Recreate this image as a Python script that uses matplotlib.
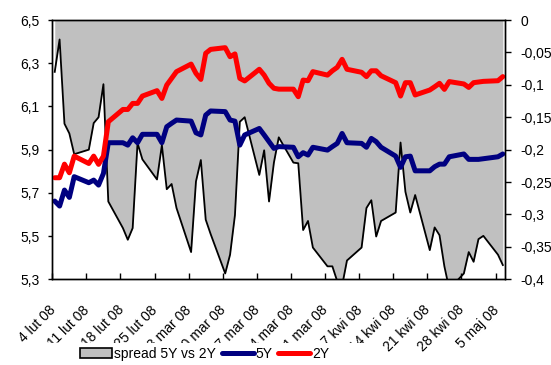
import numpy as np
import pandas as pd
import matplotlib
matplotlib.use("Agg")
import matplotlib.pyplot as plt
import matplotlib.dates as mdates
import matplotlib.transforms as mtransforms
from matplotlib.patches import Patch, Rectangle
from matplotlib.lines import Line2D
from matplotlib.ticker import FixedLocator, FixedFormatter

plt.rcParams['font.family'] = ['Liberation Sans', 'DejaVu Sans']
plt.rcParams['font.size'] = 10

# trading days, 4 Feb - 6 May 2008
dates = pd.bdate_range('2008-02-04', '2008-05-06')

# 2Y yield (left axis)
y2 = [5.770, 5.770, 5.833, 5.793, 5.870, 5.836, 5.870, 5.832, 5.870, 6.029,
      6.086, 6.086, 6.114, 6.114, 6.148, 6.173, 6.137, 6.199, 6.230, 6.261,
      6.296, 6.253, 6.225, 6.346, 6.364, 6.372, 6.330, 6.343, 6.230, 6.218,
      6.272, 6.245, 6.207, 6.184, 6.180, 6.180, 6.145, 6.222, 6.219, 6.261,
      6.245, 6.265, 6.281, 6.318, 6.272, 6.258, 6.238, 6.265, 6.265, 6.242,
      6.210, 6.148, 6.210, 6.210, 6.153, 6.176, 6.191, 6.207, 6.179, 6.215,
      6.204, 6.188, 6.210, 6.213, 6.216, 6.219, 6.238]

# 5Y yield (left axis)
y5 = [5.662, 5.639, 5.713, 5.679, 5.775, 5.747, 5.759, 5.736, 5.790, 5.932,
      5.932, 5.921, 5.955, 5.932, 5.971, 5.971, 5.932, 6.006, 6.022, 6.037,
      6.032, 5.978, 5.968, 6.060, 6.079, 6.076, 6.037, 6.032, 5.921, 5.968,
      5.998, 5.968, 5.937, 5.906, 5.914, 5.911, 5.867, 5.886, 5.875, 5.911,
      5.898, 5.914, 5.929, 5.975, 5.932, 5.929, 5.911, 5.952, 5.937, 5.911,
      5.870, 5.818, 5.867, 5.870, 5.802, 5.802, 5.821, 5.833, 5.833, 5.867,
      5.880, 5.855, 5.855, 5.855, 5.858, 5.867, 5.880]

# spread 5Y vs 2Y (right axis)
spread = [-0.080, -0.030, -0.160, -0.175, -0.207, -0.200, -0.159, -0.150, -0.099, -0.280,
          -0.321, -0.339, -0.321, -0.190, -0.215, -0.246, -0.193, -0.261, -0.253, -0.290,
          -0.358, -0.249, -0.216, -0.308, -0.330, -0.391, -0.362, -0.301, -0.157, -0.150,
          -0.239, -0.201, -0.280, -0.220, -0.181, -0.220, -0.221, -0.324, -0.310, -0.351,
          -0.380, -0.380, -0.403, -0.410, -0.371, -0.351, -0.290, -0.278, -0.334, -0.310,
          -0.297, -0.189, -0.265, -0.297, -0.270, -0.355, -0.320, -0.332, -0.380, -0.415,
          -0.391, -0.358, -0.373, -0.338, -0.333, -0.362, -0.378]

left_ticks = [5.3, 5.5, 5.7, 5.9, 6.1, 6.3, 6.5]
left_labels = ['5,3', '5,5', '5,7', '5,9', '6,1', '6,3', '6,5']
right_ticks = [-0.4, -0.35, -0.3, -0.25, -0.2, -0.15, -0.1, -0.05, 0]
right_labels = ['-0,4', '-0,35', '-0,3', '-0,25', '-0,2', '-0,15', '-0,1', '-0,05', '0']
week_ticks = pd.date_range('2008-02-04', '2008-05-05', freq='7D')
week_labels = ['4 lut 08', '11 lut 08', '18 lut 08', '25 lut 08', '3 mar 08',
               '10 mar 08', '17 mar 08', '24 mar 08', '31 mar 08', '7 kwi 08',
               '14 kwi 08', '21 kwi 08', '28 kwi 08', '5 maj 08']

# points sit in the middle of their day slot
x = dates + pd.Timedelta(hours=12)

fig = plt.figure(figsize=(5.51, 3.65), dpi=100)
ax = fig.add_axes([0.0949, 0.2348, 0.8221, 0.7104])
ax2 = ax.twinx()
ax.set_zorder(ax2.get_zorder() + 1)
ax.patch.set_visible(False)

ax2.fill_between(x, 0, spread, color='#C0C0C0', lw=0)
ax2.plot(x, spread, color='black', lw=1.3)
ax2.set_ylim(-0.4, 0)

ax.plot(x, y5, color='#000080', lw=3.6, solid_capstyle='round', solid_joinstyle='round')
ax.plot(x, y2, color='#FF0000', lw=3.6, solid_capstyle='round', solid_joinstyle='round')
ax.set_ylim(5.3, 6.5)
ax.set_xlim(pd.Timestamp('2008-02-04'), pd.Timestamp('2008-05-07'))

ax.yaxis.set_major_locator(FixedLocator(left_ticks))
ax.yaxis.set_major_formatter(FixedFormatter(left_labels))
ax2.yaxis.set_major_locator(FixedLocator(right_ticks))
ax2.yaxis.set_major_formatter(FixedFormatter(right_labels))
ax.xaxis.set_major_locator(FixedLocator(mdates.date2num(week_ticks)))
ax.xaxis.set_major_formatter(FixedFormatter(week_labels))

ax.tick_params(axis='y', direction='out', length=3, width=1, pad=6, labelsize=10)
ax2.tick_params(axis='y', direction='out', length=4, width=1, pad=7, labelsize=10)
ax.tick_params(axis='x', direction='in', length=4, width=1, pad=17, labelsize=10)
shift = mtransforms.ScaledTranslation(-4 / 100, 0, fig.dpi_scale_trans)
for lab in ax.get_xticklabels():
    lab.set_rotation(45)
    lab.set_rotation_mode('anchor')
    lab.set_ha('right')
    lab.set_va('top')
    lab.set_transform(lab.get_transform() + shift)

for a in (ax, ax2):
    for s in a.spines.values():
        s.set_color('black')
        s.set_linewidth(1)

# white legend box hides the lower part of the long date labels
fig.add_artist(Rectangle((38 / 551, 0), (372 - 38) / 551, (365 - 343) / 365,
                         transform=fig.transFigure, facecolor='white',
                         edgecolor='none', zorder=3))

handles = [Patch(facecolor='#C0C0C0', edgecolor='black', lw=1.2),
           Line2D([], [], color='#000080', lw=3.6, solid_capstyle='round'),
           Line2D([], [], color='#FF0000', lw=3.6, solid_capstyle='round')]
leg = fig.legend(handles, ['spread 5Y vs 2Y', '5Y', '2Y'], ncol=3,
                 loc='center', bbox_to_anchor=(205 / 551, 1 - 354 / 365),
                 frameon=False, handlelength=2.3, handletextpad=0.15,
                 columnspacing=0.4, fontsize=10, borderpad=0)
leg.set_zorder(5)

fig.savefig('out.png', dpi=100)
